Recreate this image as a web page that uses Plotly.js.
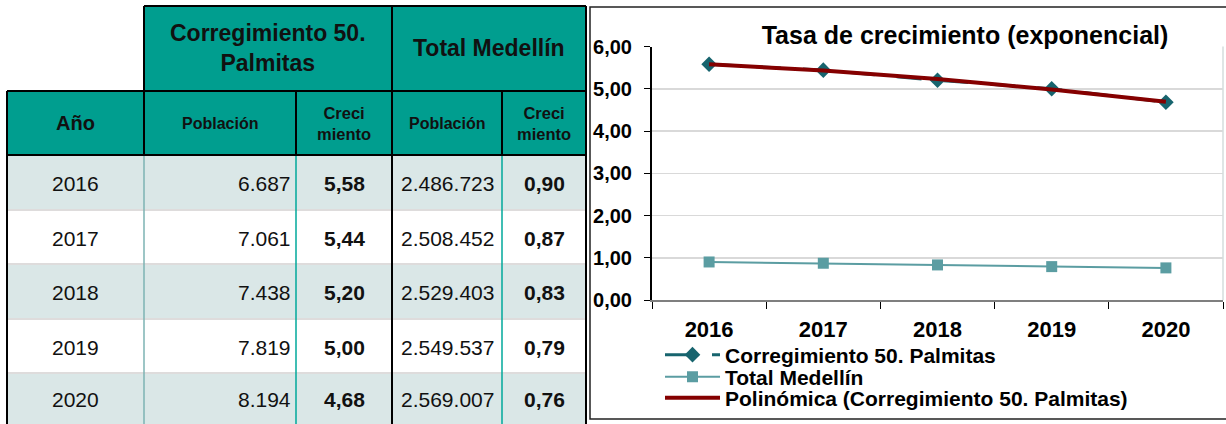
<!DOCTYPE html>
<html>
<head>
<meta charset="utf-8">
<script src="https://cdn.plot.ly/plotly-3.0.1.min.js"></script>
<style>
  html, body { margin: 0; padding: 0; background: #ffffff; }
  #chart { width: 1226px; height: 424px; }
</style>
</head>
<body>
<div id="chart"></div>
<script>
// ---------- DATA ----------
const years = ['2016', '2017', '2018', '2019', '2020'];
const poblacionPalmitas = [6687, 7061, 7438, 7819, 8194];
const crecimientoPalmitas = [5.58, 5.44, 5.20, 5.00, 4.68];
const poblacionMedellin = [2486723, 2508452, 2529403, 2549537, 2569007];
const crecimientoMedellin = [0.90, 0.87, 0.83, 0.79, 0.76];
const tendenciaPalmitas = [5.58, 5.43, 5.23, 4.98, 4.69];

const seriesNames = ['Corregimiento 50. Palmitas', 'Total Medellín', 'Polinómica (Corregimiento 50. Palmitas)'];
const chartTitle = 'Tasa de crecimiento (exponencial)';
const headerTop = ['Corregimiento 50.<br>Palmitas', 'Total Medellín'];
const headerSub = ['Año', 'Población', 'Creci<br>miento', 'Población', 'Creci<br>miento'];

// ---------- GEOMETRY / STYLE ----------
const W = 1226, H = 424;
const X = v => v / W;
const Y = v => 1 - v / H;
const FONT = 'Liberation Sans, Arial, sans-serif';
const TEAL = '#009E8F';
const LIGHT = '#DAE7E7';
const colX = [7, 144, 296, 392, 502, 586];
const rowY = [155, 210, 264, 319, 373, 424];
const headY = [6, 91, 155];
const legendRowY = [355, 377, 398];

function fmtInt(n) {
  return String(n).replace(/\B(?=(\d{3})+(?!\d))/g, '.');
}
function fmtDec(n) {
  return n.toFixed(2).replace('.', ',');
}

const shapes = [];
const annotations = [];
function rect(x0, y0, x1, y1, fill, lineColor, lineWidth) {
  shapes.push({type: 'rect', xref: 'paper', yref: 'paper', x0: X(x0), x1: X(x1), y0: Y(y0), y1: Y(y1),
    fillcolor: fill || 'rgba(0,0,0,0)', line: {color: lineColor || 'rgba(0,0,0,0)', width: lineWidth || 0}, layer: 'below'});
}
function line(x0, y0, x1, y1, color, width) {
  shapes.push({type: 'line', xref: 'paper', yref: 'paper', x0: X(x0), x1: X(x1), y0: Y(y0), y1: Y(y1),
    line: {color: color, width: width}, layer: 'above'});
}
function text(t, x, y, size, bold, xanchor) {
  annotations.push({text: t, xref: 'paper', yref: 'paper', x: X(x), y: Y(y), xanchor: xanchor || 'center', yanchor: 'middle',
    showarrow: false, font: {family: FONT, size: size, color: '#111111', weight: bold ? 700 : 400}, borderpad: 0});
}

// Table fills
rect(colX[1], headY[0], colX[5], headY[1], TEAL);
rect(colX[0], headY[1], colX[5], headY[2], TEAL);
for (let i = 0; i < years.length; i++) {
  rect(colX[0], rowY[i], colX[5], rowY[i + 1], i % 2 === 0 ? LIGHT : '#FFFFFF');
}
// Row separators
for (let i = 1; i < years.length; i++) line(colX[0], rowY[i], colX[5], rowY[i], '#DEDCDC', 2);
// Data-area verticals
line(colX[1], rowY[0], colX[1], H, '#7DB3B3', 1.5);
line(colX[2], rowY[0], colX[2], H, '#00A99B', 1.5);
line(colX[3], rowY[0], colX[3], H, '#000000', 2);
line(colX[4], rowY[0], colX[4], H, '#00A99B', 1.5);
line(colX[5], rowY[0], colX[5], H, '#000000', 2);
line(colX[0], headY[1], colX[0], H, '#000000', 2);
// Header borders
line(colX[1], headY[0], colX[5], headY[0], '#000000', 2);
line(colX[0], headY[1], colX[5], headY[1], '#000000', 2);
line(colX[0], headY[2], colX[5], headY[2], '#000000', 2);
line(colX[1], headY[0], colX[1], headY[2], '#000000', 2);
line(colX[3], headY[0], colX[3], headY[2], '#000000', 2);
line(colX[5], headY[0], colX[5], headY[2], '#000000', 2);
line(colX[2], headY[1], colX[2], headY[2], '#000000', 2);
line(colX[4], headY[1], colX[4], headY[2], '#000000', 2);

// Header texts
text(headerTop[0], (colX[1] + colX[3]) / 2, 48, 23, true);
text(headerTop[1], (colX[3] + colX[5]) / 2, 48, 23, true);
text(headerSub[0], (colX[0] + colX[1]) / 2, 123, 20, true);
text(headerSub[1], (colX[1] + colX[2]) / 2, 123, 16, true);
text(headerSub[2], (colX[2] + colX[3]) / 2, 123, 16.5, true);
text(headerSub[3], (colX[3] + colX[4]) / 2, 123, 16, true);
text(headerSub[4], (colX[4] + colX[5]) / 2, 123, 16.5, true);

// Data texts
for (let i = 0; i < years.length; i++) {
  const cy = (rowY[i] + rowY[i + 1]) / 2 + 1;
  text(years[i], (colX[0] + colX[1]) / 2, cy, 21, false);
  text(fmtInt(poblacionPalmitas[i]), colX[2] - 4, cy, 21, false, 'right');
  text(fmtDec(crecimientoPalmitas[i]), (colX[2] + colX[3]) / 2, cy, 21, true);
  text(fmtInt(poblacionMedellin[i]), (colX[3] + colX[4]) / 2, cy, 21, false);
  text(fmtDec(crecimientoMedellin[i]), (colX[4] + colX[5]) / 2, cy, 21, true);
}

// Chart frame
rect(590, 7, 1232, 419, null, '#222222', 1.5);
// Plot area right border
line(1223, 46.5, 1223, 300, '#D4DCDC', 1.5);

// ---------- TRACES ----------
const traces = [
  {x: years, y: crecimientoPalmitas, name: seriesNames[0], type: 'scatter', mode: 'lines+markers', legend: 'legend',
   line: {color: '#17646E', width: 3, dash: '25px,22px'}, marker: {symbol: 'diamond', size: 12, color: '#17646E'}},
  {x: years, y: crecimientoMedellin, name: seriesNames[1], type: 'scatter', mode: 'lines+markers', legend: 'legend2',
   line: {color: '#5B9DA2', width: 2}, marker: {symbol: 'square', size: 11, color: '#5B9DA2'}},
  {x: years, y: tendenciaPalmitas, name: seriesNames[2], type: 'scatter', mode: 'lines', legend: 'legend3',
   line: {color: '#850000', width: 4, shape: 'spline', smoothing: 0.6}}
];

function legendAt(yc) {
  return {x: X(660), y: Y(yc), xanchor: 'left', yanchor: 'middle', orientation: 'v',
    bgcolor: 'rgba(0,0,0,0)', borderwidth: 0, itemwidth: 55, tracegroupgap: 0,
    font: {family: FONT, size: 21, weight: 700, color: '#000000'}};
}

const layout = {
  width: W, height: H,
  margin: {l: 0, r: 0, t: 0, b: 0, autoexpand: false},
  paper_bgcolor: '#FFFFFF', plot_bgcolor: 'rgba(0,0,0,0)',
  separators: ',.',
  font: {family: FONT, color: '#000000'},
  title: {text: chartTitle, x: X(965), xanchor: 'center', y: Y(35), yanchor: 'middle',
    font: {family: FONT, size: 25, weight: 700, color: '#000000'}},
  xaxis: {domain: [X(652), X(1223)], type: 'category', range: [-0.5, 4.5], tickson: 'boundaries',
    showline: true, linecolor: '#7F7F7F', linewidth: 2, ticks: 'outside', ticklen: 7, tickcolor: '#000000', tickwidth: 1,
    showgrid: false, zeroline: false, fixedrange: true,
    tickfont: {family: FONT, size: 22, weight: 700, color: '#000000'}, ticklabelstandoff: 9},
  yaxis: {domain: [Y(300), Y(46.5)], range: [0, 6], dtick: 1, tickformat: '.2f',
    showline: true, linecolor: '#000000', linewidth: 2, ticks: 'outside', ticklen: 6, tickcolor: '#000000', tickwidth: 1,
    showgrid: true, gridcolor: '#D9D9D9', gridwidth: 1.5, zeroline: false, fixedrange: true,
    tickfont: {family: FONT, size: 20, weight: 700, color: '#000000'}, ticklabelstandoff: 8},
  showlegend: true,
  legend: legendAt(legendRowY[0]),
  legend2: legendAt(legendRowY[1]),
  legend3: legendAt(legendRowY[2]),
  shapes: shapes,
  annotations: annotations,
  hovermode: false
};

Plotly.newPlot('chart', traces, layout, {staticPlot: true, displayModeBar: false});
</script>
</body>
</html>
